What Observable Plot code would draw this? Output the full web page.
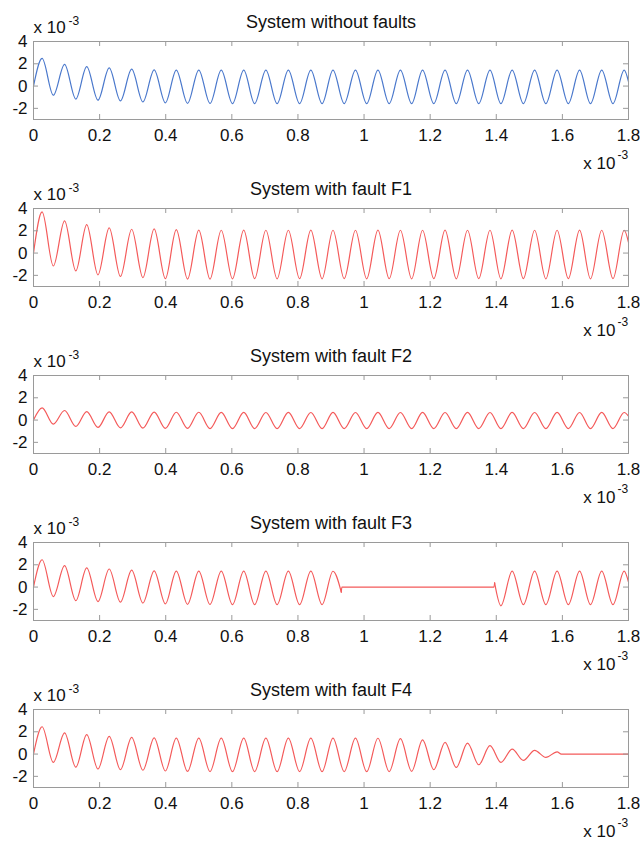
<!DOCTYPE html>
<html><head><meta charset="utf-8">
<script src="https://cdn.jsdelivr.net/npm/d3@7"></script>
<script src="https://cdn.jsdelivr.net/npm/@observablehq/plot@0.6"></script>
<style>
body{margin:0;background:#fff;}
#wrap{position:relative;width:640px;height:843px;}
#wrap svg{position:absolute;left:0;overflow:visible;}
</style></head><body><div id="wrap"></div>
<script>
const titles = ["System without faults","System with fault F1","System with fault F2","System with fault F3","System with fault F4"];
const xTicks = [0,0.2,0.4,0.6,0.8,1,1.2,1.4,1.6,1.8];
const yTicks = [-2,0,2,4];
// times (x 10^-3 s) of successive peaks/troughs
const extremaT = [0.026,0.060,0.094,0.128,0.161,0.195,0.229,0.263,0.297,0.331,
  0.365,0.399,0.432,0.466,0.500,0.534,0.568,0.602,0.636,0.669,
  0.703,0.737,0.771,0.805,0.839,0.873,0.906,0.940,0.974,1.008,
  1.042,1.076,1.110,1.144,1.177,1.211,1.245,1.279,1.313,1.347,
  1.381,1.414,1.448,1.482,1.516,1.550,1.584,1.618,1.652,1.685,
  1.719,1.753,1.787];
// peak / trough values (x 10^-3)
const noFault = [2.48,-0.82,1.95,-1.17,1.74,-1.27,1.64,-1.33,1.52,-1.42,
  1.46,-1.50,1.44,-1.55,1.44,-1.56,1.43,-1.57,1.44,-1.57,
  1.43,-1.58,1.44,-1.57,1.43,-1.58,1.44,-1.57,1.43,-1.58,
  1.44,-1.57,1.43,-1.58,1.44,-1.57,1.43,-1.58,1.44,-1.57,
  1.43,-1.58,1.44,-1.57,1.43,-1.58,1.44,-1.57,1.43,-1.58,
  1.44,-1.57,1.43];
const faultF1 = [3.69,-1.16,2.89,-1.60,2.56,-1.95,2.26,-2.10,2.14,-2.20,
  2.17,-2.30,2.10,-2.33,2.06,-2.33,2.05,-2.31,2.06,-2.30,
  2.05,-2.31,2.05,-2.30,2.06,-2.31,2.05,-2.30,2.05,-2.31,
  2.06,-2.30,2.05,-2.31,2.05,-2.30,2.06,-2.31,2.05,-2.30,
  2.05,-2.31,2.06,-2.30,2.05,-2.31,2.05,-2.30,2.06,-2.31,
  2.05,-2.30,2.05];
const faultF2 = [1.10,-0.36,0.86,-0.57,0.76,-0.66,0.74,-0.70,0.73,-0.72,
  0.72,-0.74,0.70,-0.75,0.70,-0.76,0.69,-0.76,0.69,-0.76,
  0.68,-0.77,0.69,-0.76,0.68,-0.77,0.69,-0.76,0.68,-0.77,
  0.69,-0.76,0.68,-0.77,0.69,-0.76,0.68,-0.77,0.69,-0.76,
  0.68,-0.77,0.69,-0.76,0.68,-0.77,0.69,-0.76,0.68,-0.77,
  0.69,-0.76,0.68];
const faultF3 = [2.45,-0.85,1.92,-1.22,1.72,-1.30,1.62,-1.35,1.52,-1.43,
  1.46,-1.50,1.44,-1.55,1.43,-1.56,1.44,-1.57,1.43,-1.58,
  1.44,-1.57,1.43,-1.58,1.44,-1.57,1.42,null,null,null,
  null,null,null,null,null,null,null,null,null,null,
  null,-1.68,1.43,-1.58,1.44,-1.57,1.43,-1.58,1.44,-1.57,
  1.43,-1.58,1.44];
const faultF4 = [2.45,-0.75,1.90,-1.18,1.75,-1.34,1.58,-1.40,1.50,-1.45,
  1.46,-1.52,1.44,-1.56,1.44,-1.57,1.43,-1.58,1.44,-1.57,
  1.43,-1.58,1.44,-1.57,1.43,-1.58,1.44,-1.57,1.43,-1.58,
  1.42,-1.57,1.38,-1.55,1.28,-1.40,1.05,-1.20,0.99,-0.96,
  0.75,-0.75,0.45,-0.57,0.33,-0.30,0.20,null,null,null,
  null,null,null];
// start / end / break points [time, value]
const startPt = [0, 0];
const endNoFault = [1.8, 0.40];
const endF1 = [1.8, 0.95];
const endF2 = [1.8, 0.35];
const endF3 = [1.8, 0.45];
const f3Cut = [[0.931,-0.45],[0.933,0],[1.393,0],[1.395,0.37]];
const f4Stop = [[1.597,0],[1.8,0]];

const blue = "#4a78cc", red = "#f45a5a", frameColor = "#9a9a9a";

function seg(id, pre, vals, lo, hi, post) {
  const out = [];
  for (const p of pre) out.push({t:p[0], v:p[1], seg:id});
  for (let k = lo; k <= hi; k++) if (vals[k] != null) out.push({t:extremaT[k], v:vals[k], seg:id});
  for (const p of post) out.push({t:p[0], v:p[1], seg:id});
  return out;
}
const last = extremaT.length - 1;
const series = [
  {data: seg(0,[startPt],noFault,0,last,[endNoFault]), color: blue},
  {data: seg(0,[startPt],faultF1,0,last,[endF1]), color: red},
  {data: seg(0,[startPt],faultF2,0,last,[endF2]), color: red},
  {data: [...seg(0,[startPt],faultF3,0,26,[f3Cut[0]]), ...seg(1,f3Cut,[],0,-1,[]), ...seg(2,[f3Cut[3]],faultF3,41,last,[endF3])], color: red},
  {data: seg(0,[startPt],faultF4,0,46,f4Stop), color: red}
];

const wrap = document.getElementById("wrap");
const stride = 167;
series.forEach((s, i) => {
  const fig = Plot.plot({
    width: 640, height: stride,
    marginTop: 41, marginBottom: 48, marginLeft: 33, marginRight: 12,
    x: {domain: [0, 1.8], label: null}, y: {domain: [-3, 4], label: null},
    style: {fontFamily: "'Liberation Sans', Arial, sans-serif", fontSize: "17px", overflow: "visible", background: "transparent", color: "#111"},
    marks: [
      Plot.line(s.data, {x: "t", y: "v", z: "seg", curve: "monotone-x", stroke: s.color, strokeWidth: 1.2}),
      Plot.frame({stroke: frameColor}),
      Plot.tickX(xTicks, {x: d => d, insetTop: 73, stroke: frameColor}),
      Plot.tickX(xTicks, {x: d => d, insetBottom: 73, stroke: frameColor}),
      Plot.tickY(yTicks, {y: d => d, insetRight: 590, stroke: frameColor}),
      Plot.tickY(yTicks, {y: d => d, insetLeft: 590, stroke: frameColor}),
      Plot.axisX(xTicks, {tickSize: 0, tickPadding: 9, tickFormat: d => String(d), fontSize: 17, label: null}),
      Plot.axisY(yTicks, {tickSize: 0, tickPadding: 6, tickFormat: d => String(d), fontSize: 17, label: null}),
      Plot.text([titles[i]], {frameAnchor: "top", dy: -14, lineAnchor: "bottom", fontSize: 18}),
      Plot.text(["x 10"], {frameAnchor: "top-left", textAnchor: "start", dy: -9, lineAnchor: "bottom", fontSize: 17}),
      Plot.text(["-3"], {frameAnchor: "top-left", textAnchor: "start", dx: 35, dy: -17, lineAnchor: "bottom", fontSize: 12}),
      Plot.text(["x 10"], {frameAnchor: "bottom-right", textAnchor: "end", dx: -13, dy: 49, lineAnchor: "bottom", fontSize: 17}),
      Plot.text(["-3"], {frameAnchor: "bottom-right", textAnchor: "start", dx: -11, dy: 39, lineAnchor: "bottom", fontSize: 12})
    ]
  });
  fig.style.top = (i * stride) + "px";
  wrap.appendChild(fig);
});
</script></body></html>
